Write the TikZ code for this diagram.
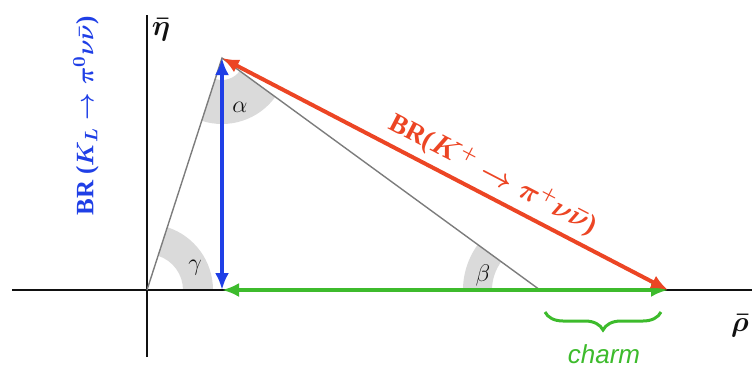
\documentclass[tikz,border=0pt]{standalone}
\usepackage{fontspec}
\setmainfont{Liberation Serif}
\newfontfamily\charmfont{Liberation Sans}
\usepackage{amsmath,amssymb,bm}
\usetikzlibrary{arrows.meta,calc,decorations.pathreplacing}
\definecolor{ink}{HTML}{111111}
\definecolor{utRed}{HTML}{EC4524}
\definecolor{utBlue}{HTML}{1F3FE6}
\definecolor{utGreen}{HTML}{3DBB2C}
\definecolor{sidegray}{HTML}{7C7C7C}
\definecolor{wedgegray}{HTML}{DADADA}
\tikzset{
  every node/.style={text=ink},
  axis line/.style={draw=ink,line width=1pt},
  side line/.style={draw=sidegray,line width=0.7pt},
  angle wedge/.style={fill=wedgegray,draw=none},
  br arrow/.style={{Latex[length=8.5pt,width=7pt]}-{Latex[length=8.5pt,width=7pt]},line width=2pt},
  angle label/.style={font=\fontsize{13}{13}\selectfont},
  br label/.style={font=\bfseries\boldmath\fontsize{13.5}{15}\selectfont},
  axis label/.style={font=\boldmath\fontsize{15}{15}\selectfont},
}

\begin{document}
\begin{tikzpicture}[x=0.5pt,y=0.5pt]
  \useasboundingbox (0,0) rectangle (755,372);

  % triangle corners
  \coordinate (O) at (147,82);
  \coordinate (A) at (222,314);
  \coordinate (B) at (540,82);
  \coordinate (F) at (222,82);
  \coordinate (R) at (668,82);

  % angle wedges
  \fill[angle wedge] ($(O)+(0:36)$) arc[start angle=0,end angle=72.08,radius=36]
    -- ($(O)+(72.08:66)$) arc[start angle=72.08,end angle=0,radius=66] -- cycle;
  \fill[angle wedge] ($(A)+(252.08:22)$) arc[start angle=252.08,end angle=323.89,radius=22]
    -- ($(A)+(323.89:66)$) arc[start angle=323.89,end angle=252.08,radius=66] -- cycle;
  \fill[angle wedge] ($(B)+(143.89:48)$) arc[start angle=143.89,end angle=180,radius=48]
    -- ($(B)+(180:77)$) arc[start angle=180,end angle=143.89,radius=77] -- cycle;

  % axes
  \coordinate (xl) at (12,82);
  \coordinate (xr) at (752,82);
  \coordinate (yt) at (147,357);
  \coordinate (yb) at (147,15);
  \draw[axis line] (xl) -- (xr);
  \draw[axis line] (yb) -- (yt);
  \node[axis label] (etabar) at (161,342) {$\bar{\eta}$};
  \node[axis label] (rhobar) at (740,46) {$\bar{\rho}$};

  % unitarity triangle
  \draw[side line] (O) -- (A) -- (B);

  \node[angle label] (alpha) at (240,265) {$\alpha$};
  \node[angle label] (gamma) at (195,104) {$\gamma$};
  \node[angle label] (beta) at (483,97) {$\beta$};

  % branching ratios
  \draw[br arrow,utGreen] (R) -- (F);
  \draw[br arrow,utBlue] (F) -- (A);
  \draw[br arrow,utRed] (A) -- (R)
    node[br label,text=utRed,pos=0.585,above,sloped,inner sep=3pt] (kplus)
    {BR($K^+\rightarrow\pi^+\nu\bar{\nu}$)};
  \node[br label,font=\bfseries\boldmath\fontsize{12.5}{14}\selectfont,
        text=utBlue,rotate=90] (klong) at (86,256)
    {BR ($K_L\rightarrow\pi^0\nu\bar{\nu}$)};

  % charm part
  \coordinate (c1) at (661,60);
  \coordinate (c2) at (545,60);
  \draw[utGreen,line width=1.5pt,decorate,
        decoration={brace,amplitude=9pt}] (c1) -- (c2);
  \node[text=utGreen,font=\charmfont\itshape\fontsize{13}{13}\selectfont] (charm)
    at (604,18) {charm};
\end{tikzpicture}
\end{document}
